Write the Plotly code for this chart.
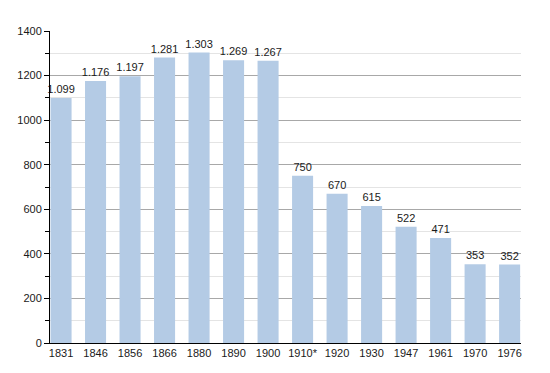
import plotly.graph_objects as go

years = ["1831", "1846", "1856", "1866", "1880", "1890", "1900", "1910*", "1920", "1930", "1947", "1961", "1970", "1976"]
population = [1099, 1176, 1197, 1281, 1303, 1269, 1267, 750, 670, 615, 522, 471, 353, 352]

fig = go.Figure()
fig.add_trace(go.Bar(
    x=list(range(len(years))),
    y=population,
    width=0.61,
    marker=dict(color="#b4cbe5", line=dict(width=0)),
    texttemplate="%{y:,}",
    textposition="outside",
    constraintext="none",
    textfont=dict(size=11, color="#1a1a1a", family="Liberation Sans, Arial, sans-serif"),
    cliponaxis=False,
    hoverinfo="skip",
))

fig.update_layout(
    width=550, height=373,
    margin=dict(l=50, r=29, t=31, b=30, autoexpand=False),
    paper_bgcolor="white",
    plot_bgcolor="white",
    separators=",.",
    showlegend=False,
    font=dict(family="Liberation Sans, Arial, sans-serif", size=11, color="#1a1a1a"),
)
fig.update_xaxes(
    range=[-0.32, 13.33],
    tickmode="array",
    tickvals=list(range(len(years))),
    ticktext=years,
    showgrid=False,
    showline=True, linecolor="black", linewidth=1,
    ticks="", zeroline=False,
    automargin=False,
    tickfont=dict(size=11),
)
fig.update_yaxes(
    range=[0, 1400],
    dtick=200,
    showgrid=True, gridcolor="#a8a8a8", gridwidth=1,
    minor=dict(dtick=100, showgrid=True, gridcolor="#e4e4e4", ticks="outside", ticklen=4, tickcolor="black"),
    showline=True, linecolor="black", linewidth=1,
    ticks="outside", ticklen=5, tickcolor="black",
    zeroline=False,
    automargin=False,
    tickfont=dict(size=11),
)

fig.write_html(
    "out.html",
    config={"displayModeBar": False, "staticPlot": True},
    post_script="document.body.style.margin='0';document.body.style.overflow='hidden';",
)
